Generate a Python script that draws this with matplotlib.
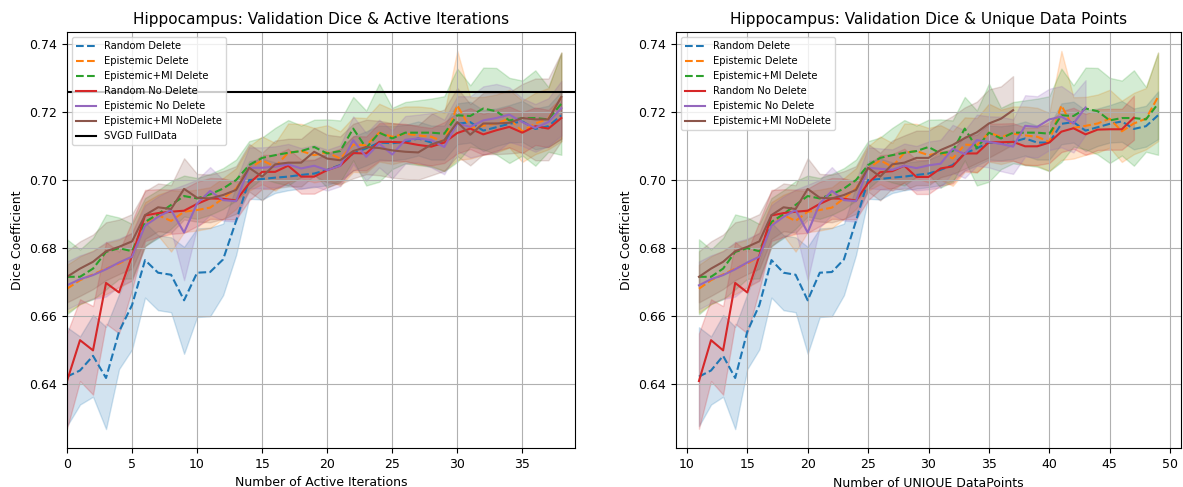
import numpy as np
import matplotlib
matplotlib.use('Agg')
import matplotlib.pyplot as plt

# ==========================================
# DATA
# ==========================================
active_iters = np.arange(39)          # 0..38
first_unique = 11                     # unique data points at iteration 0

labels = ['Random Delete', 'Epistemic Delete', 'Epistemic+MI Delete',
          'Random No Delete', 'Epistemic No Delete', 'Epistemic+MI NoDelete']
colors = ['#1f77b4', '#ff7f0e', '#2ca02c', '#d62728', '#9467bd', '#8c564b']
styles = ['--', '--', '--', '-', '-', '-']

rand_del = [0.6423, 0.6441, 0.6484, 0.6419, 0.6555, 0.6633, 0.6765, 0.6728, 0.6722, 0.6647,
            0.6728, 0.6730, 0.6767, 0.6880, 0.7000, 0.7003, 0.7007, 0.7010, 0.7015, 0.7019,
            0.7030, 0.7044, 0.7078, 0.7093, 0.7110, 0.7108, 0.7112, 0.7122, 0.7110, 0.7110,
            0.7165, 0.7170, 0.7145, 0.7155, 0.7165, 0.7172, 0.7150, 0.7158, 0.7190]
rand_del_sd = [0.0145, 0.0100, 0.0120, 0.0150, 0.0110, 0.0130, 0.0110, 0.0110, 0.0110, 0.0157,
               0.0130, 0.0130, 0.0105, 0.0100, 0.0055, 0.0060, 0.0045, 0.0040, 0.0040, 0.0040,
               0.0045, 0.0045, 0.0050, 0.0050, 0.0050, 0.0050, 0.0050, 0.0050, 0.0050, 0.0050,
               0.0060, 0.0060, 0.0060, 0.0055, 0.0055, 0.0060, 0.0060, 0.0060, 0.0070]

epi_del = [0.6681, 0.6706, 0.6723, 0.6740, 0.6755, 0.6775, 0.6870, 0.6897, 0.6880, 0.6907,
           0.6912, 0.6919, 0.6946, 0.6975, 0.7034, 0.7058, 0.7039, 0.7080, 0.7085, 0.7073,
           0.7081, 0.7063, 0.7104, 0.7102, 0.7139, 0.7127, 0.7136, 0.7131, 0.7127, 0.7112,
           0.7219, 0.7153, 0.7159, 0.7166, 0.7180, 0.7143, 0.7166, 0.7180, 0.7244]
epi_del_sd = [0.0070, 0.0070, 0.0070, 0.0075, 0.0070, 0.0070, 0.0065, 0.0060, 0.0090, 0.0060,
              0.0060, 0.0060, 0.0060, 0.0060, 0.0065, 0.0070, 0.0070, 0.0086, 0.0080, 0.0080,
              0.0080, 0.0080, 0.0080, 0.0080, 0.0085, 0.0080, 0.0080, 0.0085, 0.0085, 0.0085,
              0.0160, 0.0090, 0.0085, 0.0085, 0.0085, 0.0090, 0.0090, 0.0090, 0.0130]

epimi_del = [0.6716, 0.6716, 0.6740, 0.6789, 0.6800, 0.6791, 0.6877, 0.6900, 0.6927, 0.6953,
             0.6946, 0.6958, 0.6975, 0.7000, 0.7044, 0.7065, 0.7073, 0.7080, 0.7085, 0.7097,
             0.7078, 0.7085, 0.7151, 0.7094, 0.7139, 0.7122, 0.7139, 0.7139, 0.7139, 0.7136,
             0.7190, 0.7188, 0.7210, 0.7202, 0.7175, 0.7182, 0.7182, 0.7178, 0.7224]
epimi_del_sd = [0.0110, 0.0080, 0.0090, 0.0110, 0.0090, 0.0080, 0.0070, 0.0070, 0.0070, 0.0060,
                0.0060, 0.0060, 0.0060, 0.0060, 0.0070, 0.0060, 0.0080, 0.0096, 0.0075, 0.0080,
                0.0100, 0.0090, 0.0093, 0.0110, 0.0144, 0.0090, 0.0090, 0.0095, 0.0100, 0.0110,
                0.0137, 0.0090, 0.0120, 0.0127, 0.0125, 0.0110, 0.0140, 0.0095, 0.0150]

rand_nodel = [0.6410, 0.6530, 0.6500, 0.6698, 0.6670, 0.6778, 0.6896, 0.6903, 0.6907, 0.6910,
              0.6930, 0.6946, 0.6945, 0.6940, 0.6990, 0.7024, 0.7024, 0.7042, 0.7010, 0.7010,
              0.7029, 0.7042, 0.7079, 0.7078, 0.7112, 0.7112, 0.7110, 0.7103, 0.7098, 0.7110,
              0.7138, 0.7151, 0.7134, 0.7146, 0.7156, 0.7139, 0.7158, 0.7151, 0.7182]
rand_nodel_sd = [0.0140, 0.0120, 0.0130, 0.0120, 0.0120, 0.0100, 0.0075, 0.0070, 0.0065, 0.0065,
                 0.0065, 0.0060, 0.0060, 0.0055, 0.0050, 0.0050, 0.0050, 0.0050, 0.0050, 0.0050,
                 0.0050, 0.0050, 0.0050, 0.0050, 0.0055, 0.0055, 0.0055, 0.0055, 0.0055, 0.0060,
                 0.0060, 0.0060, 0.0060, 0.0060, 0.0060, 0.0060, 0.0055, 0.0055, 0.0060]

epi_nodel = [0.6691, 0.6709, 0.6721, 0.6738, 0.6758, 0.6775, 0.6866, 0.6892, 0.6912, 0.6846,
             0.6931, 0.6968, 0.6941, 0.6938, 0.7036, 0.7036, 0.7039, 0.7046, 0.7034, 0.7042,
             0.7029, 0.7042, 0.7117, 0.7068, 0.7107, 0.7075, 0.7118, 0.7122, 0.7117, 0.7097,
             0.7166, 0.7156, 0.7175, 0.7182, 0.7192, 0.7170, 0.7153, 0.7170, 0.7211]
epi_nodel_sd = [0.0070, 0.0070, 0.0070, 0.0080, 0.0070, 0.0070, 0.0060, 0.0060, 0.0060, 0.0140,
                0.0070, 0.0070, 0.0060, 0.0060, 0.0060, 0.0060, 0.0060, 0.0060, 0.0060, 0.0060,
                0.0060, 0.0060, 0.0070, 0.0070, 0.0070, 0.0070, 0.0070, 0.0070, 0.0080, 0.0080,
                0.0080, 0.0090, 0.0100, 0.0100, 0.0080, 0.0070, 0.0070, 0.0070, 0.0080]

epimi_nodel = [0.6716, 0.6740, 0.6760, 0.6791, 0.6804, 0.6820, 0.6897, 0.6920, 0.6915, 0.6974,
               0.6948, 0.6946, 0.6956, 0.6971, 0.7036, 0.7010, 0.7046, 0.7051, 0.7051, 0.7083,
               0.7063, 0.7058, 0.7085, 0.7097, 0.7094, 0.7087, 0.7083, 0.7081, 0.7104, 0.7117,
               0.7170, 0.7133, 0.7166, 0.7166, 0.7168, 0.7182, 0.7178, 0.7178, 0.7244]
epimi_nodel_sd = [0.0075, 0.0080, 0.0080, 0.0085, 0.0080, 0.0080, 0.0070, 0.0070, 0.0070, 0.0090,
                  0.0070, 0.0070, 0.0070, 0.0070, 0.0070, 0.0070, 0.0070, 0.0070, 0.0070, 0.0070,
                  0.0070, 0.0070, 0.0080, 0.0080, 0.0080, 0.0080, 0.0080, 0.0080, 0.0090, 0.0090,
                  0.0100, 0.0090, 0.0090, 0.0090, 0.0090, 0.0100, 0.0120, 0.0120, 0.0130]

svgd_full = 0.7258

# Unique-datapoint view: NoDelete runs gain fewer unique points, so their
# tails (from 25 unique points on) are read separately from the right panel
rand_nodel_tail = [0.6991, 0.7023, 0.7026, 0.7042, 0.7009, 0.7009, 0.7034, 0.7040, 0.7078, 0.7078,
                   0.7111, 0.7111, 0.7112, 0.7099, 0.7099, 0.7110, 0.7142, 0.7152, 0.7134, 0.7148,
                   0.7149, 0.7149, 0.7183]
rand_nodel_tail_sd = [0.0050, 0.0050, 0.0050, 0.0050, 0.0050, 0.0050, 0.0050, 0.0050, 0.0050, 0.0055,
                      0.0055, 0.0055, 0.0055, 0.0055, 0.0055, 0.0060, 0.0060, 0.0060, 0.0060, 0.0060,
                      0.0060, 0.0060, 0.0065]
epi_nodel_tail = [0.7036, 0.7033, 0.7030, 0.7042, 0.7035, 0.7043, 0.7048, 0.7092, 0.7076, 0.7117,
                  0.7112, 0.7106, 0.7098, 0.7159, 0.7156, 0.7178, 0.7186, 0.7166, 0.7213]
epi_nodel_tail_sd = [0.0060, 0.0060, 0.0060, 0.0065, 0.0065, 0.0070, 0.0070, 0.0070, 0.0070, 0.0075,
                     0.0075, 0.0080, 0.0080, 0.0090, 0.0090, 0.0090, 0.0090, 0.0085, 0.0080]
epimi_nodel_tail = [0.7036, 0.7010, 0.7046, 0.7051, 0.7065, 0.7065, 0.7088, 0.7103, 0.7123, 0.7140,
                    0.7166, 0.7180, 0.7205]
epimi_nodel_tail_sd = [0.0070, 0.0070, 0.0070, 0.0080, 0.0080, 0.0080, 0.0080, 0.0085, 0.0090, 0.0090,
                       0.0100, 0.0095, 0.0100]

left_means = [rand_del, epi_del, epimi_del, rand_nodel, epi_nodel, epimi_nodel]
left_sds = [rand_del_sd, epi_del_sd, epimi_del_sd, rand_nodel_sd, epi_nodel_sd, epimi_nodel_sd]

n_shared = 14  # first 14 iterations coincide in both panels
right_means = [rand_del, epi_del, epimi_del,
               rand_nodel[:n_shared] + rand_nodel_tail,
               epi_nodel[:n_shared] + epi_nodel_tail,
               epimi_nodel[:n_shared] + epimi_nodel_tail]
right_sds = [rand_del_sd, epi_del_sd, epimi_del_sd,
             rand_nodel_sd[:n_shared] + rand_nodel_tail_sd,
             epi_nodel_sd[:n_shared] + epi_nodel_tail_sd,
             epimi_nodel_sd[:n_shared] + epimi_nodel_tail_sd]


def draw_series(ax, x, m, s, color, style, label):
    m = np.asarray(m)
    s = np.asarray(s)
    ax.plot(x, m, style, color=color, label=label, linewidth=1.5)
    ax.fill_between(x, m - s, m + s, color=color, alpha=0.2)


# ==========================================
# PLOT
# ==========================================
plt.rcParams['xtick.labelsize'] = 9
plt.rcParams['ytick.labelsize'] = 9
plt.rcParams['axes.labelsize'] = 9

fig = plt.figure(figsize=(11.83, 4.87), dpi=100)
ax1 = fig.add_axes([67 / 1183, 39 / 487, 508 / 1183, 416 / 487])
ax2 = fig.add_axes([676 / 1183, 39 / 487, 505 / 1183, 416 / 487])

for m, s, c, ls, lab in zip(left_means, left_sds, colors, styles, labels):
    draw_series(ax1, active_iters[:len(m)], m, s, c, ls, lab)
ax1.axhline(svgd_full, color='black', linewidth=1.5, label='SVGD FullData')
ax1.set_xlim(0, 39.05)
ax1.set_title('Hippocampus: Validation Dice & Active Iterations', fontsize=11)
ax1.set_xlabel('Number of Active Iterations')
ax1.set_ylabel('Dice Coefficient')
ax1.grid(True)
ax1.legend(loc='upper left', fontsize=7.2)

for m, s, c, ls, lab in zip(right_means, right_sds, colors, styles, labels):
    x = np.arange(first_unique, first_unique + len(m))
    draw_series(ax2, x, m, s, c, ls, lab)
ax2.set_title('Hippocampus: Validation Dice & Unique Data Points', fontsize=11)
ax2.set_xlabel('Number of UNIQUE DataPoints')
ax2.set_ylabel('Dice Coefficient')
ax2.grid(True)
ax2.legend(loc='upper left', fontsize=7.2)

fig.savefig('out.png', dpi=100)
